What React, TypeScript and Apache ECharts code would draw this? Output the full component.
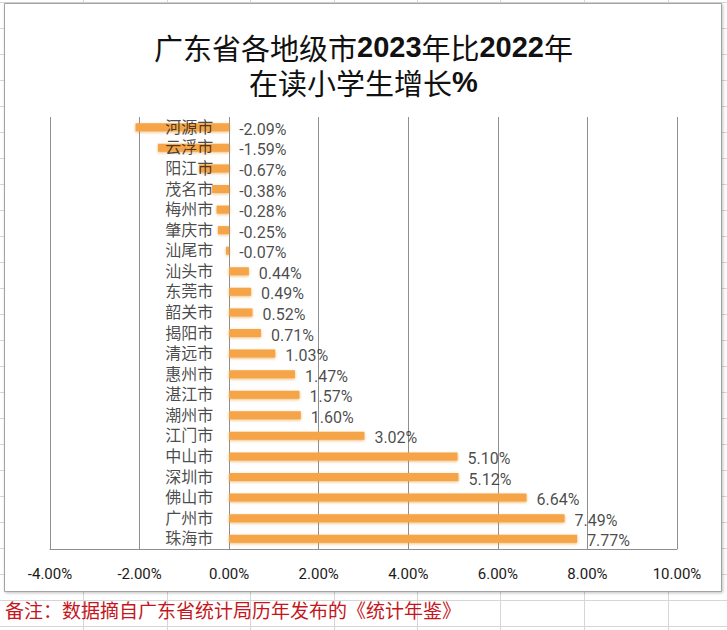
import React, { useEffect, useRef } from "react";
import * as echarts from "echarts";

const cities = [
  "河源市", "云浮市", "阳江市", "茂名市", "梅州市", "肇庆市", "汕尾市",
  "汕头市", "东莞市", "韶关市", "揭阳市", "清远市", "惠州市", "湛江市",
  "潮州市", "江门市", "中山市", "深圳市", "佛山市", "广州市", "珠海市",
];
const growth = [
  -2.09, -1.59, -0.67, -0.38, -0.28, -0.25, -0.07,
  0.44, 0.49, 0.52, 0.71, 1.03, 1.47, 1.57,
  1.6, 3.02, 5.1, 5.12, 6.64, 7.49, 7.77,
];
const xMin = -4;
const xMax = 10;
const xStep = 2;
const noteText = "备注：数据摘自广东省统计局历年发布的《统计年鉴》";

const sheetCols = [83, 167, 250, 334, 417, 500, 584, 668];
const sheetRows = [2, 28, 54, 80, 106, 132, 158, 184, 210, 236, 262, 288, 314, 340, 366, 392, 418, 444, 470, 496, 522, 548, 574, 600, 626];

export default function App() {
  const ref = useRef<HTMLDivElement>(null);
  useEffect(() => {
    if (!ref.current) return;
    const chart = echarts.init(ref.current, null, { renderer: "svg" });
    const bg: any[] = [];
    sheetCols.forEach((x) =>
      bg.push({ type: "line", z: -101, shape: { x1: x + 0.5, y1: 0, x2: x + 0.5, y2: 630 }, style: { stroke: "#d6d6d6", lineWidth: 1 } })
    );
    sheetRows.forEach((y) =>
      bg.push({ type: "line", z: -101, shape: { x1: 0, y1: y + 0.5, x2: 727, y2: y + 0.5 }, style: { stroke: "#d6d6d6", lineWidth: 1 } })
    );
    bg.push({
      type: "rect",
      z: -100,
      shape: { x: 4.5, y: 3.5, width: 717, height: 588 },
      style: { fill: "#ffffff", stroke: "#a3a3a3", lineWidth: 1, shadowBlur: 3, shadowColor: "rgba(0,0,0,0.25)", shadowOffsetX: 1, shadowOffsetY: 1 },
    });
    bg.push({
      type: "text",
      z: 10,
      x: 5,
      y: 609,
      style: {
        text: noteText,
        fill: "#C4161C",
        font: '19px "Noto Sans CJK SC"',
        verticalAlign: "middle",
        align: "left",
      },
    });

    const option: any = {
      animation: false,
      backgroundColor: "#ffffff",
      title: {
        left: "center",
        top: 24,
        text: "{a|广东省各地级市}{b|2023}{a|年比}{b|2022}{a|年}\n{a|在读小学生增长}{b|%}",
        textStyle: {
          fontWeight: "normal",
          fontSize: 29,
          lineHeight: 35,
          rich: {
            a: { fontFamily: "Noto Sans CJK SC", fontWeight: "normal", fontSize: 29, color: "#111", lineHeight: 35 },
            b: { fontFamily: "Liberation Sans", fontWeight: "bold", fontSize: 29, color: "#111", lineHeight: 35 },
          },
        },
      },
      graphic: bg,
      grid: { left: 50, right: 50, top: 117, bottom: 81, containLabel: false, outerBoundsMode: "none" },
      xAxis: {
        type: "value",
        min: xMin,
        max: xMax,
        interval: xStep,
        axisLine: { show: true, lineStyle: { color: "#8e8e8e", width: 1 } },
        axisTick: { show: false },
        splitLine: { show: true, lineStyle: { color: "#8e8e8e", width: 1 } },
        axisLabel: {
          margin: 17,
          color: "#1a1a1a",
          fontFamily: "Roboto",
          fontSize: 15,
          formatter: (v: number) => v.toFixed(2) + "%",
        },
      },
      yAxis: {
        type: "category",
        data: cities,
        inverse: true,
        axisLine: { show: false },
        axisTick: { show: false },
        splitLine: { show: false },
        axisLabel: { show: false, interval: 0 },
      },
      series: [
        {
          type: "bar",
          data: growth,
          barWidth: 8,
          itemStyle: {
            color: "#F5A546",
            shadowBlur: 3,
            shadowColor: "rgba(230,140,30,0.6)",
            shadowOffsetY: 1,
          },
          z: 2,
        },
        {
          type: "scatter",
          data: cities.map((c) => [0, c]),
          symbolSize: 0,
          silent: true,
          label: {
            show: true,
            position: "left",
            distance: 16,
            color: "#1a1a1a",
            fontFamily: '"Liberation Sans", "Noto Sans CJK SC"',
            fontSize: 16,
            lineHeight: 18,
            formatter: (p: any) => p.data[1],
          },
          z: 6,
        },
        {
          type: "scatter",
          data: growth.map((v, i) => [Math.max(0, v), cities[i], v]),
          symbolSize: 0,
          silent: true,
          label: {
            show: true,
            position: "right",
            distance: 10,
            offset: [0, 2],
            color: "#1a1a1a",
            fontFamily: "Roboto",
            fontSize: 16,
            lineHeight: 18,
            formatter: (p: any) => (p.data[2] as number).toFixed(2) + "%",
          },
          z: 6,
        },
      ],
    };
    chart.setOption(option);
    return () => chart.dispose();
  }, []);
  return <div ref={ref} style={{ position: "fixed", left: 0, top: 0, width: 727, height: 630 }} />;
}
